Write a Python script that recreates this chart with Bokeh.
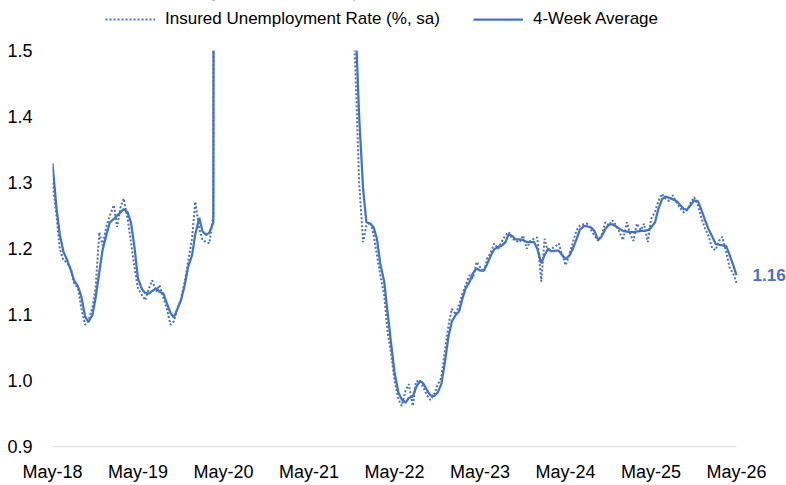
import pandas as pd
from datetime import datetime
from bokeh.plotting import figure
from bokeh.models import (ColumnDataSource, Range1d, FixedTicker, DatetimeTickFormatter,
                          NumeralTickFormatter, Legend, LegendItem, Label, BoxAnnotation)
from bokeh.embed import file_html
from bokeh.resources import INLINE

# ---- data (semi-monthly readings, 2018-05-15 .. 2026-05-15) ----
dates = pd.date_range("2018-05-15", "2026-05-15", freq="SMS")

weekly_rate = [
    1.300, 1.250, 1.200, 1.182, 1.180, 1.170, 1.148, 1.140, 1.110, 1.085,
    1.090, 1.110, 1.140, 1.225, 1.205, 1.235, 1.250, 1.266, 1.233, 1.262,
    1.276, 1.245, 1.210, 1.170, 1.140, 1.130, 1.122, 1.140, 1.152, 1.135,
    1.145, 1.125, 1.110, 1.085, 1.090, 1.110, 1.125, 1.150, 1.180, 1.215,
    1.271, 1.230, 1.213, 1.210, 1.208, 1.250,
    10.0, 15.0, 17.0, 14.5, 13.5, 12.5, 11.5, 10.5, 9.5, 9.0,
    8.3, 7.4, 6.5, 5.0, 4.4, 3.9, 3.8, 3.7, 3.5, 3.3,
    3.2, 3.0, 2.8, 2.6, 2.6, 2.5, 2.4, 2.4, 2.3, 2.3,
    2.2, 2.1, 2.0, 1.9, 1.85, 1.8, 1.72, 1.65, 1.60,
    1.450, 1.300, 1.210, 1.235, 1.240, 1.220, 1.190, 1.160, 1.130, 1.075,
    1.040, 1.000, 0.972, 0.962, 0.985, 0.995, 0.962, 0.999, 1.000, 0.990,
    0.978, 0.971, 0.980, 0.994, 1.005, 1.042, 1.085, 1.109, 1.100, 1.115,
    1.132, 1.145, 1.160, 1.155, 1.180, 1.172, 1.165, 1.185, 1.195, 1.208,
    1.200, 1.210, 1.220, 1.225, 1.215, 1.212, 1.210, 1.220, 1.200, 1.212,
    1.215, 1.217, 1.150, 1.215, 1.195, 1.200, 1.203, 1.208, 1.190, 1.175,
    1.192, 1.210, 1.228, 1.235, 1.237, 1.238, 1.228, 1.220, 1.212, 1.220,
    1.240, 1.235, 1.243, 1.236, 1.225, 1.213, 1.240, 1.222, 1.212, 1.238,
    1.228, 1.238, 1.210, 1.245, 1.256, 1.272, 1.283, 1.276, 1.272, 1.281,
    1.270, 1.262, 1.255, 1.258, 1.270, 1.278, 1.266, 1.248, 1.230, 1.220,
    1.200, 1.198, 1.212, 1.218, 1.195, 1.172, 1.162, 1.148,
]

four_week_avg = [
    1.329, 1.262, 1.222, 1.195, 1.184, 1.168, 1.152, 1.143, 1.128, 1.098,
    1.089, 1.099, 1.125, 1.165, 1.198, 1.222, 1.240, 1.245, 1.250, 1.255,
    1.260, 1.255, 1.240, 1.200, 1.155, 1.139, 1.133, 1.132, 1.136, 1.140,
    1.135, 1.132, 1.118, 1.103, 1.096, 1.110, 1.122, 1.145, 1.172, 1.190,
    1.222, 1.247, 1.226, 1.221, 1.224, 1.240,
    5.0, 11.0, 15.5, 15.5, 14.0, 13.0, 12.0, 11.0, 10.0, 9.5,
    8.8, 7.9, 7.0, 5.6, 4.7, 4.1, 3.9, 3.8, 3.6, 3.4,
    3.3, 3.1, 2.9, 2.7, 2.6, 2.55, 2.45, 2.4, 2.35, 2.3,
    2.25, 2.15, 2.05, 1.95, 1.9, 1.82, 1.75, 1.70, 1.65,
    1.530, 1.400, 1.290, 1.240, 1.238, 1.232, 1.215, 1.178, 1.150, 1.105,
    1.055, 1.013, 0.982, 0.972, 0.967, 0.974, 0.976, 0.990, 1.000, 0.996,
    0.986, 0.978, 0.977, 0.982, 0.995, 1.025, 1.068, 1.090, 1.100, 1.105,
    1.124, 1.140, 1.150, 1.163, 1.170, 1.167, 1.167, 1.177, 1.190, 1.199,
    1.203, 1.204, 1.210, 1.222, 1.219, 1.214, 1.214, 1.213, 1.210, 1.210,
    1.210, 1.200, 1.178, 1.190, 1.200, 1.196, 1.197, 1.197, 1.190, 1.184,
    1.190, 1.200, 1.215, 1.229, 1.234, 1.234, 1.232, 1.227, 1.213, 1.218,
    1.230, 1.236, 1.237, 1.234, 1.230, 1.227, 1.226, 1.225, 1.225, 1.226,
    1.227, 1.227, 1.228, 1.232, 1.240, 1.260, 1.275, 1.279, 1.277, 1.275,
    1.272, 1.267, 1.260, 1.259, 1.266, 1.273, 1.272, 1.260, 1.243, 1.230,
    1.218, 1.207, 1.206, 1.205, 1.204, 1.191, 1.175, 1.160,
]

y_ticks = [0.9, 1.0, 1.1, 1.2, 1.3, 1.4, 1.5]
x_tick_years = list(range(2018, 2027))
series_names = ["Insured Unemployment Rate (%, sa)", "4-Week Average"]

BLUE = "#4472C4"
FONT = "Liberation Sans"

# layout (figure pixels; the Bokeh page template has no body margin)
W, H = 786, 485
LEFT = 52            # frame left = first date
DATA_RIGHT = 736     # x pixel of the last date (frame continues to the right edge)
DATA_TOP = 50        # y pixel of 1.5 (frame continues to the top edge)
FRAME_BOTTOM = 447   # y pixel of 0.9
frame_w = W - LEFT
frame_h = FRAME_BOTTOM
data_w = DATA_RIGHT - LEFT
data_h = frame_h - DATA_TOP

t0 = dates[0].timestamp() * 1000
t1 = dates[-1].timestamp() * 1000
x_end = t0 + (t1 - t0) * frame_w / data_w
y0 = y_ticks[0] - 0.6 * (y_ticks[-1] - y_ticks[0]) / data_h   # keep baseline inside frame
y_end = y0 + (y_ticks[-1] - y0) * frame_h / (frame_h - DATA_TOP)

src = ColumnDataSource(dict(date=list(dates), weekly=weekly_rate, avg=four_week_avg))

p = figure(frame_width=frame_w, frame_height=frame_h,
           output_backend="svg", toolbar_location=None,
           x_axis_type="datetime",
           x_range=Range1d(t0, x_end),
           y_range=Range1d(y0, y_end),
           min_border_left=LEFT, min_border_right=0, min_border_top=0,
           min_border_bottom=H - FRAME_BOTTOM)
p.outline_line_color = None
p.xgrid.visible = False
p.ygrid.visible = False
p.background_fill_color = "white"
p.border_fill_color = "white"

# axis baseline spanning the data only
p.segment(x0=[dates[0]], x1=[dates[-1]], y0=[y_ticks[0]], y1=[y_ticks[0]],
          line_color="#D9D9D9", line_width=1.25)

r_weekly = p.line("date", "weekly", source=src, line_color=BLUE, line_width=2, line_dash="2 2")
r_avg = p.line("date", "avg", source=src, line_color=BLUE, line_width=2.25)

# values above the axis maximum are hidden, as in the original (clip at 1.5)
p.add_layout(BoxAnnotation(bottom=y_ticks[-1], fill_color="white", fill_alpha=1.0,
                           line_alpha=0))

# axes
xa = p.xaxis[0]
xa.ticker = FixedTicker(ticks=[datetime(y, 5, 15).timestamp() * 1000 for y in x_tick_years])
xa.formatter = DatetimeTickFormatter(years="%b-%y", months="%b-%y", days="%b-%y",
                                     hours="%b-%y", minutes="%b-%y", seconds="%b-%y",
                                     milliseconds="%b-%y", microseconds="%b-%y")
xa.axis_line_color = None
xa.major_tick_line_color = None
xa.minor_tick_line_color = None
xa.major_tick_out = 0
xa.major_tick_in = 0
xa.minor_tick_out = 0
xa.minor_tick_in = 0
xa.major_label_standoff = 14
xa.major_label_text_font = FONT
xa.major_label_text_font_size = "18px"
xa.major_label_text_color = "#000000"

ya = p.yaxis[0]
ya.ticker = FixedTicker(ticks=y_ticks)
ya.formatter = NumeralTickFormatter(format="0.0")
ya.axis_line_color = None
ya.major_tick_line_color = None
ya.minor_tick_line_color = None
ya.major_tick_out = 0
ya.major_tick_in = 0
ya.minor_tick_out = 0
ya.minor_tick_in = 0
ya.major_label_standoff = 20
ya.major_label_text_font = FONT
ya.major_label_text_font_size = "18px"
ya.major_label_text_color = "#000000"

legend = Legend(items=[LegendItem(label=series_names[0], renderers=[r_weekly]),
                       LegendItem(label=series_names[1], renderers=[r_avg])],
                orientation="horizontal", location=(53, frame_h - 29),
                glyph_width=50, glyph_height=20, label_standoff=10, spacing=33,
                padding=0, margin=0, border_line_alpha=0, background_fill_alpha=0,
                label_text_font=FONT, label_text_font_size="17px", label_text_color="#000000")
p.add_layout(legend)

last = Label(x=dates[-1], y=four_week_avg[-1], text=f"{four_week_avg[-1]:.2f}",
             x_offset=16, text_baseline="middle", text_align="left",
             text_font=FONT, text_font_size="17px", text_font_style="bold", text_color=BLUE)
p.add_layout(last)

open("out.html", "w").write(file_html(p, INLINE))
